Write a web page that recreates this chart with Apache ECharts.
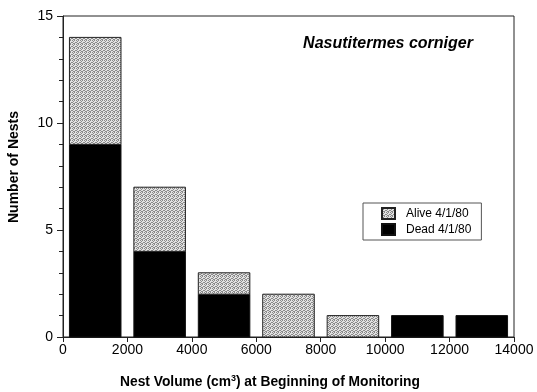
<!DOCTYPE html>
<html>
<head>
<meta charset="utf-8">
<script src="https://cdn.jsdelivr.net/npm/echarts@6/dist/echarts.min.js"></script>
<style>
  html, body { margin: 0; padding: 0; background: #fff; }
  #chart { width: 537px; height: 392px; }
</style>
</head>
<body>
<div id="chart"></div>
<script>
// bin centres of the histogram (cm3), bins are 2000 wide
var binCenters = [1000, 3000, 5000, 7000, 9000, 11000, 13000];
var binHalfWidth = 800;
var deadCounts = [9, 4, 2, 0, 0, 1, 1];
var aliveCounts = [5, 3, 1, 2, 1, 0, 0];

// stippled grey fill for the "alive" bars
function makeStipple() {
  var c = document.createElement('canvas');
  c.width = 4; c.height = 4;
  var ctx = c.getContext('2d');
  ctx.fillStyle = '#e2e2e2';
  ctx.fillRect(0, 0, 4, 4);
  ctx.fillStyle = '#8a8a8a';
  [[0, 0], [2, 0], [1, 1], [3, 2], [0, 2], [2, 3], [1, 3]].forEach(function (p) {
    ctx.fillRect(p[0], p[1], 1, 1);
  });
  return { image: c, repeat: 'repeat' };
}
var stipple = makeStipple();

// [centre, bottom, top] — alive sits on top of dead
var deadData = binCenters.map(function (x, i) { return [x, 0, deadCounts[i]]; });
var aliveData = binCenters.map(function (x, i) { return [x, deadCounts[i], deadCounts[i] + aliveCounts[i]]; });

function renderBar(params, api) {
  var lo = api.value(1), hi = api.value(2);
  if (hi <= lo) return null;
  var x = api.value(0);
  var p1 = api.coord([x - binHalfWidth, hi]);
  var p2 = api.coord([x + binHalfWidth, lo]);
  return {
    type: 'rect',
    shape: { x: p1[0], y: p1[1], width: p2[0] - p1[0], height: p2[1] - p1[1] },
    style: api.style()
  };
}

var chart = echarts.init(document.getElementById('chart'), null, { renderer: 'canvas' });
var font = 'Liberation Sans, Arial, Helvetica, sans-serif';

var option = {
  animation: false,
  backgroundColor: '#fff',
  textStyle: { fontFamily: font },
  grid: {
    left: 63, right: 23, top: 16, bottom: 55,
    show: true, borderColor: '#222', borderWidth: 1
  },
  title: {
    text: 'Nasutitermes corniger',
    left: 383, top: 31, textAlign: 'center',
    textStyle: { fontFamily: font, fontSize: 16, fontWeight: 'bold', fontStyle: 'italic', color: '#000' }
  },
  legend: {
    orient: 'vertical',
    left: 363, top: 203,
    padding: [4, 10, 4, 18],
    itemWidth: 13, itemHeight: 11, itemGap: 3,
    borderColor: '#555', borderWidth: 1,
    data: [{ name: 'Alive 4/1/80', icon: 'rect' }, { name: 'Dead 4/1/80', icon: 'rect' }],
    textStyle: { fontFamily: font, fontSize: 12, color: '#000', padding: [0, 0, 0, 6] }
  },
  xAxis: {
    type: 'value', min: 0, max: 14000, interval: 2000,
    axisLine: { show: true, lineStyle: { color: '#222', width: 1 } },
    axisTick: { show: true, length: 5, lineStyle: { color: '#222' } },
    axisLabel: { color: '#000', fontSize: 14, margin: 6, fontFamily: font,
      formatter: function (v) { return String(v); } },
    splitLine: { show: false }
  },
  yAxis: {
    type: 'value', min: 0, max: 15, interval: 5,
    axisLine: { show: true, lineStyle: { color: '#222', width: 1 } },
    axisTick: { show: true, length: 6, lineStyle: { color: '#222' } },
    minorTick: { show: true, splitNumber: 5, length: 4, lineStyle: { color: '#222' } },
    axisLabel: { color: '#000', fontSize: 14, margin: 10, fontFamily: font },
    splitLine: { show: false }
  },
  graphic: [
    {
      type: 'text', left: 120, top: 374,
      style: {
        text: '{b|Nest Volume (cm}{s|3}{b|) at Beginning of Monitoring}',
        rich: {
          b: { fontFamily: font, fontSize: 13.8, fontWeight: 'bold', fill: '#000' },
          s: { fontFamily: font, fontSize: 9, fontWeight: 'bold', fill: '#000', verticalAlign: 'top', padding: [0, 0, 7, 0] }
        }
      }
    },
    {
      type: 'text', x: 14, y: 167, rotation: Math.PI / 2, originX: 0, originY: 0,
      style: {
        text: 'Number of Nests', align: 'center', verticalAlign: 'middle',
        fontFamily: font, fontSize: 14, fontWeight: 'bold', fill: '#000'
      }
    }
  ],
  series: [
    {
      name: 'Dead 4/1/80', type: 'custom', renderItem: renderBar,
      encode: { x: 0, y: [1, 2] },
      itemStyle: { color: '#000', borderColor: '#111', borderWidth: 1 },
      data: deadData
    },
    {
      name: 'Alive 4/1/80', type: 'custom', renderItem: renderBar,
      encode: { x: 0, y: [1, 2] },
      itemStyle: { color: stipple, borderColor: '#222', borderWidth: 1 },
      data: aliveData
    }
  ]
};

chart.setOption(option);
</script>
</body>
</html>
